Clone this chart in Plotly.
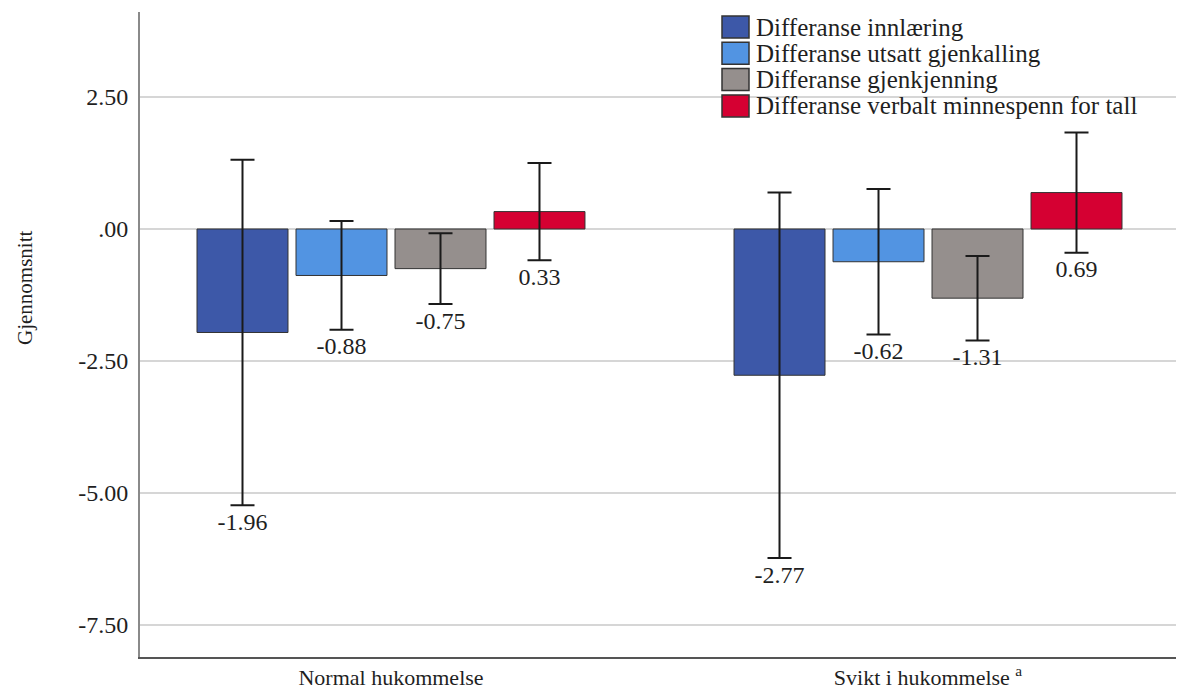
import plotly.graph_objects as go

categories = ["Normal hukommelse", "Svikt i hukommelse <sup>a</sup>"]
series_names = [
    "Differanse innlæring",
    "Differanse utsatt gjenkalling",
    "Differanse gjenkjenning",
    "Differanse verbalt minnespenn for tall",
]
innlaering_mean = [-1.96, -2.77]
innlaering_err = [3.27, 3.46]
utsatt_mean = [-0.88, -0.62]
utsatt_err = [1.03, 1.38]
gjenkjenning_mean = [-0.75, -1.31]
gjenkjenning_err = [0.67, 0.80]
verbalt_mean = [0.33, 0.69]
verbalt_err = [0.92, 1.14]

y_tickvals = [2.5, 0, -2.5, -5, -7.5]
y_ticktext = ["2.50", ".00", "-2.50", "-5.00", "-7.50"]

colors = ["#3D58A8", "#5294E2", "#958F8D", "#D50032"]
means = [innlaering_mean, utsatt_mean, gjenkjenning_mean, verbalt_mean]
errs = [innlaering_err, utsatt_err, gjenkjenning_err, verbalt_err]

FONT = "Liberation Serif"
TXT = "#1f1f1f"

# page body has an 8px margin; plot area in window pixels: x 140..1184, y 12..657
W, H = 1176, 682
ML, MR, MT, MB = 132, 0, 4, 33
PW, PH = W - ML - MR, H - MT - MB


def px_to_paper(wx, wy):
    return (wx - 8 - ML) / PW, (H - MB - (wy - 8)) / PH


fig = go.Figure()
for name, col, m, e in zip(series_names, colors, means, errs):
    fig.add_trace(go.Bar(
        name=name, x=categories, y=m, offsetgroup=name,
        marker=dict(color=col, line=dict(color="#333333", width=1)),
        error_y=dict(type="data", array=e, visible=True, color="#1a1a1a",
                     thickness=2, width=12),
        showlegend=False,
    ))
for name, m, e in zip(series_names, means, errs):
    fig.add_trace(go.Scatter(
        x=categories, y=[a - b for a, b in zip(m, e)], offsetgroup=name,
        mode="markers+text", text=[f"{a:.2f}" for a in m],
        textposition="bottom center",
        marker=dict(size=9, opacity=0),
        textfont=dict(family=FONT, size=24, color=TXT),
        showlegend=False, hoverinfo="skip",
    ))

# legend (drawn as swatches + text)
leg_left, sw_w, sw_h, row0, row_step, text_left = 722, 27, 22, 27, 26.3, 754
for i, (name, col) in enumerate(zip(series_names, colors)):
    cy = row0 + i * row_step
    x0, y0 = px_to_paper(leg_left, cy + sw_h / 2)
    x1, y1 = px_to_paper(leg_left + sw_w, cy - sw_h / 2)
    fig.add_shape(type="rect", xref="paper", yref="paper", x0=x0, x1=x1,
                  y0=y0, y1=y1, fillcolor=col,
                  line=dict(color="#333333", width=1.5), layer="above")
    tx, ty = px_to_paper(text_left, cy)
    fig.add_annotation(text=name, xref="paper", yref="paper", x=tx, y=ty,
                       xanchor="left", yanchor="middle", showarrow=False,
                       font=dict(family=FONT, size=25, color=TXT))

fig.update_layout(
    width=W, height=H,
    margin=dict(l=ML, r=MR, t=MT, b=MB, autoexpand=False),
    paper_bgcolor="white", plot_bgcolor="white",
    barmode="group", bargap=0.2626, bargroupgap=0.081,
    scattermode="group", scattergap=0.2626,
    font=dict(family=FONT, size=20, color=TXT),
    showlegend=False,
)
fig.update_xaxes(type="category", range=[-0.4674, 1.4767], showline=True,
                 linecolor="#555555", linewidth=2, ticks="", showgrid=False,
                 automargin=False, ticklabelstandoff=0,
                 tickfont=dict(family=FONT, size=22, color=TXT))
fig.update_yaxes(range=[-8.106, 4.11], tickvals=y_tickvals, ticktext=y_ticktext,
                 showline=True, linecolor="#8a8a8a", linewidth=2,
                 gridcolor="#d6d6d6", gridwidth=1.5, zeroline=True,
                 zerolinecolor="#d6d6d6", zerolinewidth=1.5, ticks="",
                 automargin=False, ticklabelstandoff=5,
                 tickfont=dict(family=FONT, size=24, color=TXT))
ax, ay = px_to_paper(25, 288)
fig.add_annotation(text="Gjennomsnitt", xref="paper", yref="paper",
                   x=ax, y=ay, textangle=-90, showarrow=False,
                   xanchor="center", yanchor="middle",
                   font=dict(family=FONT, size=21, color=TXT))

fig.write_html("out.html")
